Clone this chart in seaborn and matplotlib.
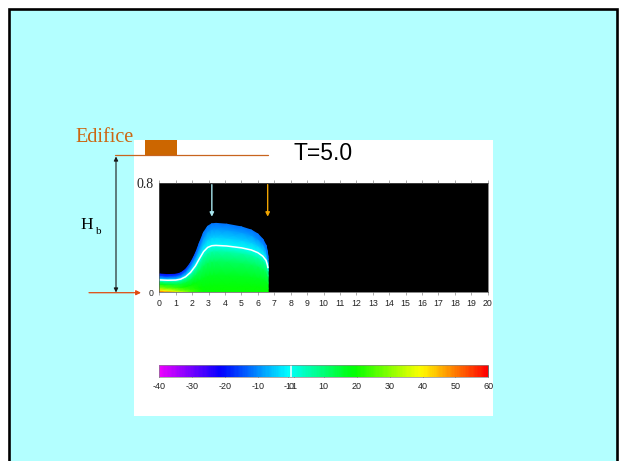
import numpy as np
import matplotlib
matplotlib.use("Agg")
import matplotlib.pyplot as plt
from matplotlib.colors import ListedColormap, Normalize
from matplotlib.patches import Rectangle
import seaborn as sns

sns.set_theme(style="white")
plt.rcParams["font.family"] = ["Liberation Sans", "DejaVu Sans"]

# Flow geometry: surface height of the layer along x, and relative depth levels
x_nodes = [0.0, 0.5, 1.0, 1.3, 1.6, 1.9, 2.2, 2.45, 2.7, 2.95, 3.2, 3.45, 4.1, 5.0, 5.6, 6.0, 6.3, 6.5, 6.58, 6.62]
surface = [0.134, 0.130, 0.132, 0.142, 0.168, 0.215, 0.285, 0.365, 0.44, 0.485, 0.503, 0.506, 0.50, 0.48, 0.457, 0.428, 0.39, 0.345, 0.30, 0.26]
depth_frac = [0.0, 0.1, 0.25, 0.45, 0.6, 0.68, 0.8, 0.92, 1.0]

# Field values per column (bottom -> surface)
col_values = [
    [55, 42, 30, 18, 8, 0, -8, -16, -20],
    [50, 38, 27, 16, 7, 0, -8, -16, -20],
    [42, 33, 24, 15, 7, 0, -8, -15, -19],
    [36, 29, 22, 14, 7, 0, -7, -14, -18],
    [31, 26, 20, 14, 7, 0, -7, -13, -17],
    [26, 23, 19, 13, 6, 0, -6, -11, -15],
    [23, 21, 18, 13, 6, 0, -5, -10, -14],
    [21, 20, 17, 12, 6, 0, -5, -10, -13],
    [20, 19, 17, 12, 6, 0, -5, -9, -12],
    [20, 19, 17, 12, 6, 0, -5, -9, -12],
    [20, 19, 17, 12, 6, 0, -5, -9, -12],
    [20, 19, 17, 12, 6, 0, -5, -9, -12],
    [20, 19, 17, 12, 6, 0, -5, -9, -12],
    [20, 19, 17, 12, 6, 0, -5, -9, -12],
    [20, 19, 17, 12, 6, 0, -5, -9, -12],
    [20, 19, 17, 12, 6, 0, -5, -10, -12],
    [20, 19, 17, 12, 6, 0, -5, -10, -13],
    [20, 19, 17, 12, 6, 0, -5, -10, -13],
    [20, 19, 17, 12, 6, 0, -5, -10, -13],
    [20, 19, 17, 12, 6, 0, -5, -10, -13],
]

cbar_ticks = [-40, -30, -20, -10, -1, 1, 10, 20, 30, 40, 50, 60]
x_ticks = list(range(0, 21))
arrow_x = [3.2, 6.6]
arrow_colors = ["#a8e6ee", "#f0a400"]
title = "T=5.0"

# Terrain-following mesh
xs = np.array(x_nodes)
hs = np.array(surface)
fs = np.array(depth_frac)
X = np.tile(xs, (len(fs), 1))
Y = np.outer(fs, hs)
C = np.array(col_values, dtype=float).T

hsv = sns.color_palette("hsv", as_cmap=True)
cmap = ListedColormap(hsv(np.linspace(5 / 6, 0, 256)))
norm = Normalize(vmin=-40, vmax=60)

fig = plt.figure(figsize=(6.24, 4.61), dpi=100)
fig.patch.set_facecolor("white")

# Slide background and annotations in pixel space
bg = fig.add_axes([0, 0, 1, 1], zorder=0)
bg.set_xlim(0, 624)
bg.set_ylim(461, 0)
bg.axis("off")
bg.add_patch(Rectangle((8.7, 8.7), 608.3, 480, fc="#b3ffff", ec="black", lw=1.9))
bg.add_patch(Rectangle((134, 140), 359, 276, fc="white", ec="none"))
bg.text(75, 137, "Edifice", family=["Liberation Serif", "DejaVu Serif"], fontsize=14.5,
        color="#cc6611", ha="left", va="center")
bg.add_patch(Rectangle((145.3, 140), 31.4, 15, fc="#cc6600", ec="none"))
bg.plot([115, 268], [155.3, 155.3], color="#c8641e", lw=0.9)
bg.annotate("", xy=(116, 156.5), xytext=(116, 292.5),
            arrowprops=dict(arrowstyle="<|-|>", color="#1a1a1a", lw=0.8,
                            mutation_scale=6, shrinkA=0, shrinkB=0))
bg.annotate("", xy=(141, 292.7), xytext=(89, 292.7),
            arrowprops=dict(arrowstyle="-|>", color="#e04a10", lw=0.9,
                            mutation_scale=7, shrinkA=0, shrinkB=0))
bg.text(80.5, 225, "H", family=["Liberation Serif", "DejaVu Serif"], fontsize=12.5,
        color="black", ha="left", va="center")
bg.text(95.5, 231.5, "b", family=["Liberation Serif", "DejaVu Serif"], fontsize=8,
        color="black", ha="left", va="center")
bg.text(293, 153.5, title, fontsize=16.5, color="black", ha="left", va="center")

# Field panel
ax = fig.add_axes([159.3 / 624, 1 - 292.3 / 461, 328.4 / 624, 109 / 461], zorder=2)
ax.set_facecolor("black")
mesh = ax.pcolormesh(X, Y, C, cmap=cmap, norm=norm, shading="gouraud")
cs = ax.contour(X, Y, C, levels=[0], colors="white", linewidths=1.1)
ax.set_xlim(0, 20)
ax.set_ylim(0, 0.8)
ax.set_xticks(x_ticks)
ax.set_xticklabels([str(t) for t in x_ticks], fontsize=6.3)
ax.set_yticks([0, 0.8])
ax.set_yticklabels(["0", "0.8"])
ylab = ax.get_yticklabels()
ylab[0].set_fontsize(6.3)
ylab[1].set_fontfamily(["Liberation Serif", "DejaVu Serif"])
ylab[1].set_fontsize(10)
ax.tick_params(axis="x", top=True, bottom=True, direction="out", length=2.5,
               width=0.5, color="#888888", pad=2.5, labelcolor="#222222")
ax.tick_params(axis="y", left=True, length=0, pad=4, labelcolor="#222222")
for sp in ax.spines.values():
    sp.set_color("#555555")
    sp.set_linewidth(0.5)

for xa, col in zip(arrow_x, arrow_colors):
    ax.annotate("", xy=(xa, 0.555), xytext=(xa, 0.79),
                arrowprops=dict(arrowstyle="-|>", color=col, lw=1.0,
                                mutation_scale=6, shrinkA=0, shrinkB=0))

# Colour scale
cax = fig.add_axes([159.3 / 624, 1 - 376.5 / 461, 329 / 624, 11.5 / 461], zorder=2)
cbar = fig.colorbar(mesh, cax=cax, orientation="horizontal")
cbar.add_lines(cs)
cbar.set_ticks(cbar_ticks)
cbar.set_ticklabels([str(t) for t in cbar_ticks])
cax.set_xticks([0], labels=["0"], minor=True)
cax.tick_params(axis="x", which="major", direction="in", length=8.3, width=0.7,
                color="#333333", labelsize=6.5, pad=4, labelcolor="#222222")
cax.tick_params(axis="x", which="minor", length=0, labelsize=6.5, pad=4,
                labelcolor="#222222")
cbar.outline.set_edgecolor("#888888")
cbar.outline.set_linewidth(0.5)

fig.savefig("out.png", dpi=100, facecolor=fig.get_facecolor())
